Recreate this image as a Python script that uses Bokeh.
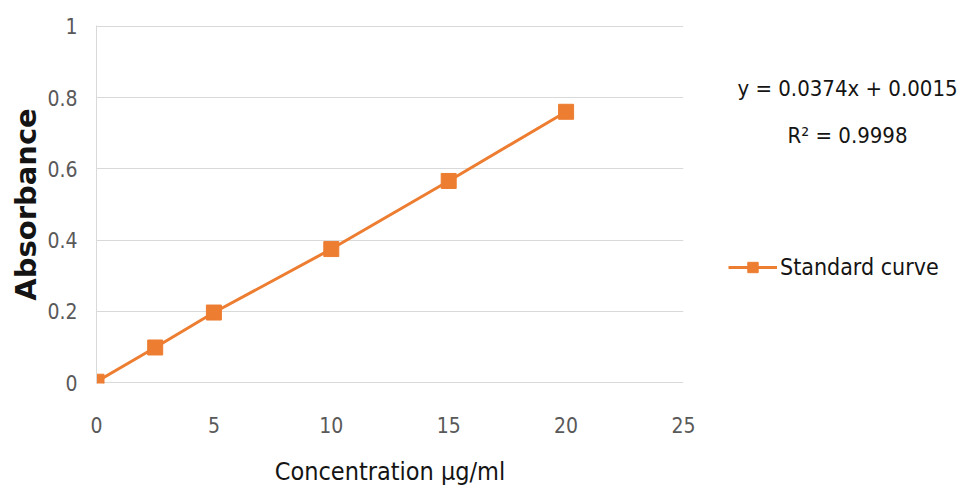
from bokeh.plotting import figure
from bokeh.layouts import row
from bokeh.models import Range1d, FixedTicker, Label, Legend, LegendItem
from bokeh.embed import file_html
from bokeh.resources import INLINE

concentration = [0, 2.5, 5, 10, 15, 20]
absorbance = [0.003, 0.099, 0.197, 0.375, 0.566, 0.760]
x_ticks = [0, 5, 10, 15, 20, 25]
y_ticks = [0, 0.2, 0.4, 0.6, 0.8, 1]
y_tick_labels = ["0", "0.2", "0.4", "0.6", "0.8", "1"]
equation = "y = 0.0374x + 0.0015"
r_squared = "R\u00b2 = 0.9998"
series_name = "Standard curve"

ORANGE = "#ED7D31"
NARROW = "DejaVu Sans Condensed"
H = 490
TOP, BOTTOM = 25, 107

p = figure(width=700, height=H, output_backend="svg", toolbar_location=None,
           x_range=Range1d(0, 25), y_range=Range1d(-0.002, 1.002),
           min_border_left=96, min_border_right=17, min_border_top=TOP, min_border_bottom=BOTTOM)
p.outline_line_color = None

r_line = p.line(concentration, absorbance, line_color=ORANGE, line_width=3)
r_pts = p.scatter(concentration, absorbance, marker="square", size=15,
                  fill_color=ORANGE, line_color=ORANGE)

p.xaxis.ticker = FixedTicker(ticks=x_ticks)
p.yaxis.ticker = FixedTicker(ticks=y_ticks)
p.yaxis.major_label_overrides = {t: s for t, s in zip(y_ticks, y_tick_labels)}
for ax in (p.xaxis, p.yaxis):
    ax.major_tick_line_color = None
    ax.minor_tick_line_color = None
    ax.major_label_text_font = NARROW
    ax.major_label_text_font_size = "21px"
    ax.major_label_text_color = "#595959"
p.xaxis.axis_line_color = None
p.yaxis.axis_line_color = "#d9d9d9"
p.xaxis.major_label_standoff = 27
p.yaxis.major_label_standoff = 13

p.xaxis.axis_label = "Concentration \u03bcg/ml"
p.xaxis.axis_label_text_font = NARROW
p.xaxis.axis_label_text_font_size = "25px"
p.xaxis.axis_label_text_font_style = "normal"
p.xaxis.axis_label_text_color = "#141414"
p.xaxis.axis_label_standoff = 21

p.yaxis.axis_label = "Absorbance"
p.yaxis.axis_label_text_font = "DejaVu Sans"
p.yaxis.axis_label_text_font_size = "29px"
p.yaxis.axis_label_text_font_style = "bold"
p.yaxis.axis_label_text_color = "#141414"
p.yaxis.axis_label_standoff = 1

p.xgrid.grid_line_color = None
p.ygrid.grid_line_color = "#d9d9d9"
p.ygrid.grid_line_width = 1

# right-hand panel: trendline equation and legend (page pixel coordinates)
p2 = figure(width=258, height=H, output_backend="svg", toolbar_location=None,
            x_range=Range1d(700, 958), y_range=Range1d(H - BOTTOM, TOP),
            x_axis_type=None, y_axis_type=None,
            min_border_left=0, min_border_right=0, min_border_top=TOP, min_border_bottom=BOTTOM)
p2.outline_line_color = None
p2.grid.grid_line_color = None

for txt, yy in ((equation, 88), (r_squared, 135)):
    p2.add_layout(Label(x=847, y=yy, text=txt, text_align="center", text_baseline="middle",
                        text_font=NARROW, text_font_size="22px", text_color="#141414"))

# legend proxies: same series, lying outside this panel's range, so only the legend shows them
l_line = p2.line(concentration, absorbance, line_color=ORANGE, line_width=3)
l_pts = p2.scatter(concentration, absorbance, marker="square", size=15,
                   fill_color=ORANGE, line_color=ORANGE)
legend = Legend(items=[LegendItem(label=series_name, renderers=[l_line, l_pts])],
                location=(28, 103), glyph_width=49, glyph_height=26, label_height=26,
                label_text_font=NARROW, label_text_font_size="23px", label_text_color="#141414",
                border_line_color=None, background_fill_alpha=0, padding=0, margin=0,
                label_standoff=3)
p2.add_layout(legend, "center")

layout = row(p, p2, spacing=0)
open("out.html", "w").write(file_html(layout, INLINE))
